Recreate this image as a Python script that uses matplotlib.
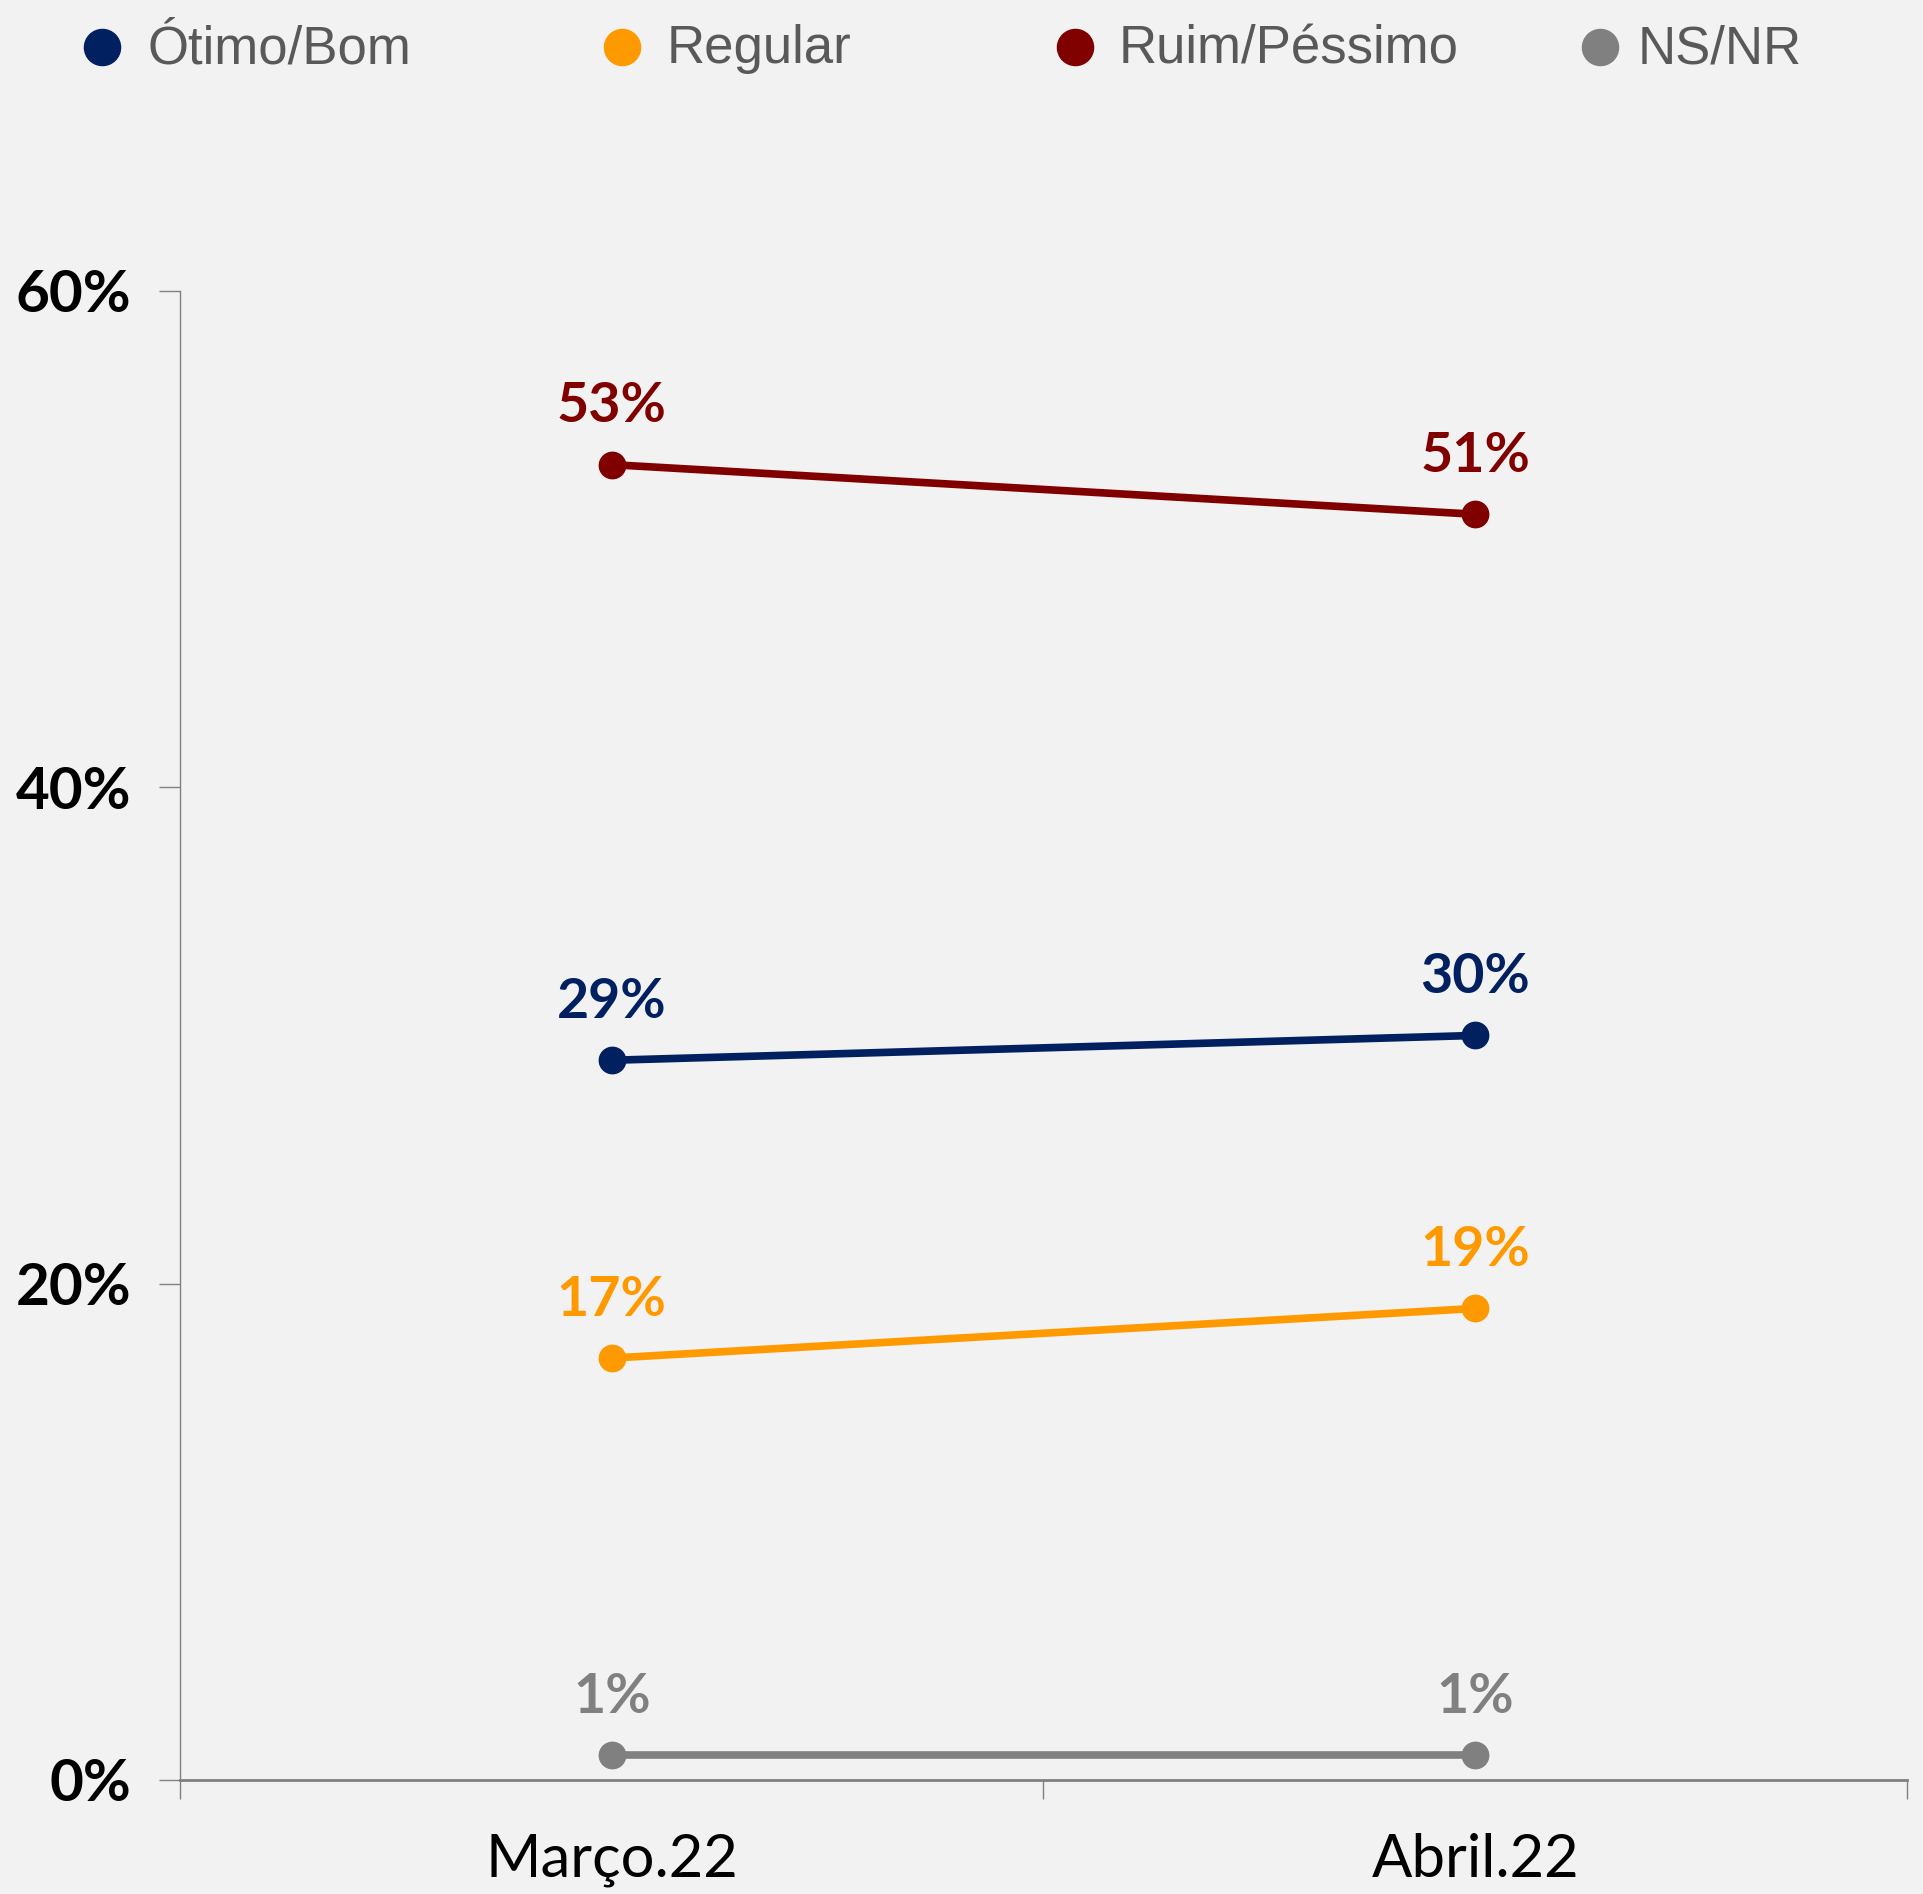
import matplotlib
matplotlib.use("Agg")
import matplotlib.pyplot as plt
from matplotlib.lines import Line2D

periods = ["Março.22", "Abril.22"]
otimo_bom = [29, 30]
regular = [17, 19]
ruim_pessimo = [53, 51]
ns_nr = [1, 1]
series_names = ["Ótimo/Bom", "Regular", "Ruim/Péssimo", "NS/NR"]
yticks = [0, 20, 40, 60]

colors = ["#002060", "#FF9900", "#800000", "#808080"]
series = [otimo_bom, regular, ruim_pessimo, ns_nr]
bg = "#F2F2F2"

fig = plt.figure(figsize=(19.24, 18.94), dpi=100, facecolor=bg)
ax = fig.add_axes([0.0936, 0.0602, 0.8975, 0.7862], facecolor=bg)

x = [0.5, 1.5]
for vals, c in zip(series, colors):
    ax.plot(x, vals, color=c, lw=5.5, marker="o", markersize=19, solid_capstyle="butt")
    for xi, v in zip(x, vals):
        ax.annotate(f"{v}%", (xi, v), xytext=(0, 24), textcoords="offset points",
                    ha="center", va="bottom", color=c, fontsize=40,
                    fontweight="bold", family="Lato")

ax.set_xlim(0, 2)
ax.set_ylim(0, 60)
ax.set_yticks(yticks)
ax.set_yticklabels([f"{t}%" for t in yticks], fontsize=42, fontweight="bold", family="Lato")
ax.set_xticks([0, 1, 2])
ax.set_xticklabels([])
ax.set_xticks(x, minor=True)
ax.set_xticklabels(periods, minor=True, fontsize=43, family="Lato")
ax.tick_params(axis="x", which="minor", length=0, pad=38)
ax.tick_params(axis="x", which="major", length=14, width=1, color="#808080", direction="out")
ax.tick_params(axis="y", length=15, width=1, color="#808080", pad=20)
for s in ["top", "right"]:
    ax.spines[s].set_visible(False)
ax.spines["left"].set_color("#808080")
ax.spines["bottom"].set_color("#808080")
ax.spines["left"].set_linewidth(1)
ax.spines["bottom"].set_linewidth(2)

# legend
mx = [102, 622, 1075, 1600]
tx = [147, 667, 1119, 1638]
for m, t, name, c in zip(mx, tx, series_names, colors):
    fig.add_artist(Line2D([m / 1924], [1 - 47 / 1894], transform=fig.transFigure,
                          marker="o", markersize=26, color=c, linestyle="none"))
    fig.text(t / 1924, 1 - 49 / 1894, name, fontsize=38, color="#595959",
             family="Liberation Sans", va="center", ha="left")

fig.savefig("out.png", dpi=100, facecolor=bg)
